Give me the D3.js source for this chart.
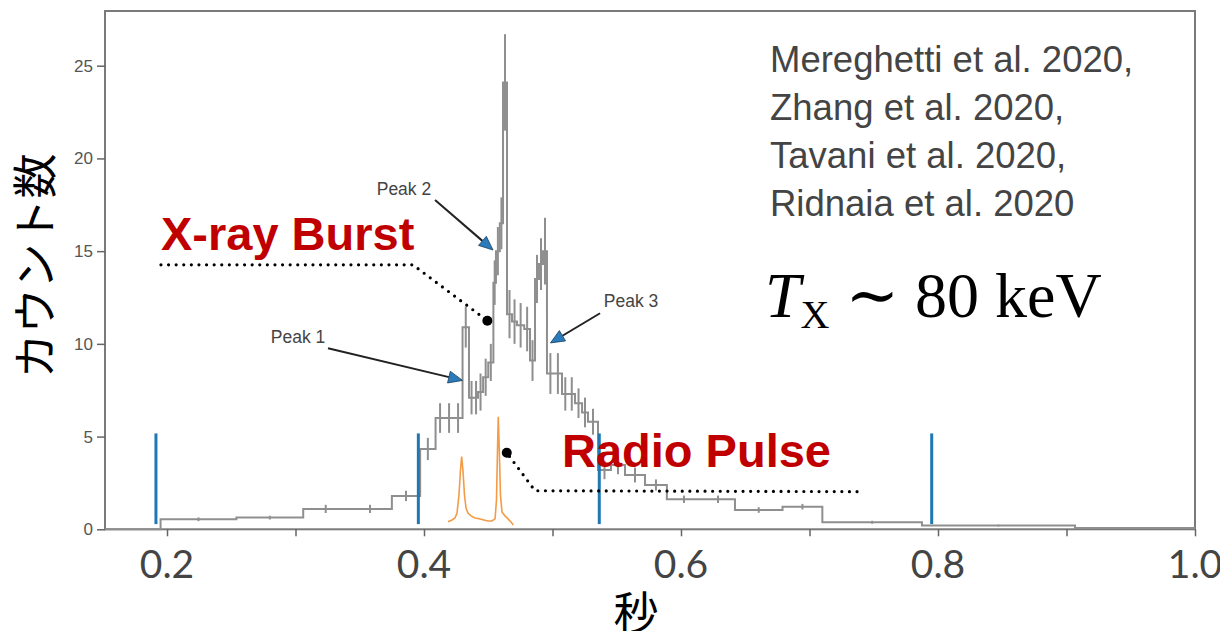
<!DOCTYPE html>
<html>
<head>
<meta charset="utf-8">
<script src="https://cdn.jsdelivr.net/npm/d3@7"></script>
<style>
  body { margin: 0; background: #fff; }
  svg { display: block; }
</style>
</head>
<body>
<svg width="1220" height="631"></svg>
<script>
// bin edges (seconds) and counts of the X-ray light curve
var binEdges = [0.152, 0.195, 0.254, 0.306, 0.341, 0.375, 0.397, 0.409, 0.416, 0.423, 0.430,
  0.435, 0.439, 0.442, 0.446, 0.450, 0.454, 0.456, 0.459, 0.4615, 0.4646, 0.4685, 0.4724,
  0.478, 0.4825, 0.4864, 0.4895, 0.4926, 0.4957, 0.501, 0.5074, 0.5125, 0.5175, 0.523,
  0.5276, 0.5354, 0.5455, 0.5564, 0.572, 0.589, 0.6156, 0.642, 0.679, 0.710, 0.7875,
  0.9066, 1.0];
var counts = [0, 0.54, 0.63, 1.1, 1.1, 1.8, 4.33, 6.0, 6.0, 6.0, 10.9,
  7.1, 7.1, 7.4, 8.2, 9.0, 13.3, 15.0, 16.5, 24.1, 11.6, 11.2,
  11.0, 10.8, 9.1, 13.5, 14.3, 15.0, 8.4, 8.4, 7.3, 7.3, 6.8,
  6.3, 5.8, 3.2, 3.47, 2.93, 2.39, 1.62, 1.62, 1.04, 1.22, 0.38,
  0.2, 0.07];
var countErrors = [0, 0.1, 0.1, 0.22, 0.22, 0.28, 0.6, 0.8, 0.8, 0.8, 1.1,
  0.9, 0.9, 1.0, 1.0, 1.0, 1.2, 1.3, 1.4, 2.6, 1.3, 1.2,
  1.2, 1.2, 1.1, 1.3, 1.4, 1.8, 1.1, 1.1, 0.9, 0.9, 0.8,
  0.8, 0.7, 0.5, 0.5, 0.4, 0.3, 0.2, 0.2, 0.15, 0.15, 0.08,
  0.05, 0];

// radio pulse (arbitrary units on the count axis)
var radioTime = [0.4187, 0.4218, 0.4241, 0.4257, 0.4272, 0.4284, 0.4293, 0.4303, 0.4315,
  0.4327, 0.4342, 0.4366, 0.4397, 0.4436, 0.4467, 0.4498, 0.4529, 0.4553, 0.4564, 0.4572,
  0.4578, 0.4586, 0.4595, 0.4607, 0.4630, 0.4654, 0.4677, 0.4695];
var radioValue = [0.41, 0.50, 0.61, 0.88, 1.85, 3.20, 3.92, 3.20, 1.85,
  1.15, 0.88, 0.72, 0.61, 0.56, 0.50, 0.45, 0.45, 0.56, 1.58, 4.28,
  6.07, 4.28, 1.85, 0.93, 0.72, 0.56, 0.39, 0.23];

// blue markers
var markerTimes = [0.1914, 0.3956, 0.5364, 0.7951];
var markerRange = [0.28, 5.17];

var yTicks = [0, 5, 10, 15, 20, 25];
var xMinorTicks = [0.2, 0.3, 0.4, 0.5, 0.6, 0.7, 0.8, 0.9, 1.0];
var xLabelTicks = [0.2, 0.4, 0.6, 0.8, 1.0];

var peakLabels = ["Peak 1", "Peak 2", "Peak 3"];
var peakLabelPos = [[0.302, 10.36], [0.3844, 18.38], [0.5611, 12.31]];
var peakArrowFrom = [[0.3253, 9.76], [0.4086, 17.76], [0.5370, 11.65]];
var peakArrowTo = [[0.4300, 8.03], [0.4537, 15.06], [0.4984, 10.05]];

var references = ["Mereghetti et al. 2020,", "Zhang et al. 2020,", "Tavani et al. 2020,", "Ridnaia et al. 2020"];

var xrayPath = [[0.1953, 14.26], [0.3914, 14.26], [0.4493, 11.25]];
var radioPath = [[0.7370, 2.03], [0.4864, 2.08], [0.4644, 4.13]];

var svg = d3.select('svg');
var plotLeft = 105, plotRight = 1195, plotTop = 11, plotBottom = 529.3;

var x = d3.scaleLinear().domain([0.15175, 1.0]).range([plotLeft, plotRight]);
var y = d3.scaleLinear().domain([0, 27.95]).range([plotBottom, plotTop]);

// frame
svg.append('rect')
  .attr('x', plotLeft).attr('y', plotTop)
  .attr('width', plotRight - plotLeft).attr('height', plotBottom - plotTop)
  .attr('fill', 'none')
  .attr('stroke', '#7a7a7a')
  .attr('stroke-width', 2);

// y axis
var yAxis = svg.append('g')
  .attr('transform', `translate(${plotLeft},0)`)
  .call(d3.axisLeft(y).tickValues(yTicks).tickSize(8).tickPadding(4));
yAxis.select('.domain').remove();
yAxis.selectAll('line').attr('stroke', '#666').attr('stroke-width', 1.5);
yAxis.selectAll('text')
  .attr('fill', '#555')
  .style('font-family', '"Liberation Sans", Arial, sans-serif')
  .style('font-size', '17px');

// x axis (small ticks only)
var xAxis = svg.append('g')
  .attr('transform', `translate(0,${plotBottom})`)
  .call(d3.axisBottom(x).tickValues(xMinorTicks).tickSize(7).tickFormat(''));
xAxis.select('.domain').remove();
xAxis.selectAll('line').attr('stroke', '#666').attr('stroke-width', 1.5);

svg.append('g')
  .selectAll('text')
  .data(xLabelTicks)
  .enter()
  .append('text')
  .attr('x', d => x(d))
  .attr('y', 578)
  .attr('text-anchor', 'middle')
  .attr('fill', '#444')
  .style('font-family', 'Lato, "Open Sans", sans-serif')
  .style('font-size', '39px')
  .text(d => d.toFixed(1));

// axis titles
svg.append('text')
  .attr('transform', 'translate(52,266) rotate(-90)')
  .attr('text-anchor', 'middle')
  .attr('fill', '#000')
  .style('font-family', '"Noto Sans CJK JP", sans-serif')
  .style('font-size', '45px')
  .text('カウント数');

svg.append('text')
  .attr('x', 636)
  .attr('y', 630)
  .attr('text-anchor', 'middle')
  .attr('fill', '#000')
  .style('font-family', '"Noto Sans CJK JP", sans-serif')
  .style('font-size', '45px')
  .text('秒');

// light curve
var stepPoints = counts.map((c, i) => [binEdges[i], c]);
stepPoints.push([binEdges[binEdges.length - 1], counts[counts.length - 1]]);

var stepLine = d3.line()
  .x(d => x(d[0]))
  .y(d => y(d[1]))
  .curve(d3.curveStepAfter);

svg.append('path')
  .datum(stepPoints)
  .attr('d', stepLine)
  .attr('fill', 'none')
  .attr('stroke', '#8f8f8f')
  .attr('stroke-width', 2);

svg.append('g')
  .selectAll('line')
  .data(counts.map((c, i) => ({ t: (binEdges[i] + binEdges[i + 1]) / 2, c: c, e: countErrors[i] }))
    .filter(d => d.e > 0))
  .enter()
  .append('line')
  .attr('x1', d => x(d.t)).attr('x2', d => x(d.t))
  .attr('y1', d => y(d.c - d.e)).attr('y2', d => y(d.c + d.e))
  .attr('stroke', '#8f8f8f')
  .attr('stroke-width', 2);

// blue markers
svg.append('g')
  .selectAll('line')
  .data(markerTimes)
  .enter()
  .append('line')
  .attr('x1', d => x(d)).attr('x2', d => x(d))
  .attr('y1', y(markerRange[0])).attr('y2', y(markerRange[1]))
  .attr('stroke', '#1f77b4')
  .attr('stroke-width', 3);

// radio pulse
svg.append('path')
  .datum(radioTime.map((t, i) => [t, radioValue[i]]))
  .attr('d', d3.line().x(d => x(d[0])).y(d => y(d[1])))
  .attr('fill', 'none')
  .attr('stroke', '#f59a45')
  .attr('stroke-width', 1.6);

// peak annotations
var peaks = svg.append('g');
peakLabels.forEach((label, i) => {
  peaks.append('text')
    .attr('x', x(peakLabelPos[i][0]))
    .attr('y', y(peakLabelPos[i][1]))
    .attr('dy', '0.35em')
    .attr('text-anchor', 'middle')
    .attr('fill', '#444')
    .style('font-family', '"Liberation Sans", Arial, sans-serif')
    .style('font-size', '17.5px')
    .text(label);

  var x0 = x(peakArrowFrom[i][0]), y0 = y(peakArrowFrom[i][1]);
  var x1 = x(peakArrowTo[i][0]), y1 = y(peakArrowTo[i][1]);
  var a = Math.atan2(y1 - y0, x1 - x0);
  var len = 14, half = 6;
  var bx = x1 - len * Math.cos(a), by = y1 - len * Math.sin(a);
  peaks.append('line')
    .attr('x1', x0).attr('y1', y0).attr('x2', bx).attr('y2', by)
    .attr('stroke', '#222')
    .attr('stroke-width', 2);
  peaks.append('path')
    .attr('d', d3.line()([
      [x1, y1],
      [bx + half * Math.sin(a), by - half * Math.cos(a)],
      [bx - half * Math.sin(a), by + half * Math.cos(a)]
    ]) + 'Z')
    .attr('fill', '#2b7bba')
    .attr('stroke', '#1a3f5e')
    .attr('stroke-width', 0.8);
});

// burst / pulse callouts
var calloutLine = d3.line().x(d => x(d[0])).y(d => y(d[1]));
[xrayPath, radioPath].forEach(p => {
  svg.append('path')
    .attr('d', calloutLine(p))
    .attr('fill', 'none')
    .attr('stroke', '#000')
    .attr('stroke-width', 3.2)
    .attr('stroke-linecap', 'round')
    .attr('stroke-dasharray', '0 7.6');
});
svg.append('circle')
  .attr('cx', x(xrayPath[2][0])).attr('cy', y(xrayPath[2][1])).attr('r', 5);
svg.append('circle')
  .attr('cx', x(radioPath[2][0])).attr('cy', y(radioPath[2][1])).attr('r', 5);

svg.append('text')
  .attr('x', x(0.1953)).attr('y', y(15.07))
  .attr('fill', '#c00000')
  .style('font-family', '"Liberation Sans", Arial, sans-serif')
  .style('font-weight', 'bold')
  .style('font-size', '47px')
  .text('X-ray Burst');

svg.append('text')
  .attr('x', x(0.5074)).attr('y', y(3.36))
  .attr('fill', '#c00000')
  .style('font-family', '"Liberation Sans", Arial, sans-serif')
  .style('font-weight', 'bold')
  .style('font-size', '47px')
  .text('Radio Pulse');

// references
svg.append('g')
  .selectAll('text')
  .data(references)
  .enter()
  .append('text')
  .attr('x', 770)
  .attr('y', (d, i) => 72 + i * 48)
  .attr('fill', '#444')
  .style('font-family', '"Liberation Sans", Arial, sans-serif')
  .style('font-size', '36.5px')
  .text(d => d);

// temperature
var tx = svg.append('text')
  .attr('x', 765)
  .attr('y', 317)
  .attr('fill', '#000')
  .style('font-family', '"Liberation Serif", "DejaVu Serif", serif')
  .style('font-size', '64px');
tx.append('tspan').style('font-style', 'italic').text('T');
tx.append('tspan').attr('dy', 11).style('font-size', '40px').text('X');
tx.append('tspan').attr('dy', -11).text(' ∼ 80 keV');
</script>
</body>
</html>
